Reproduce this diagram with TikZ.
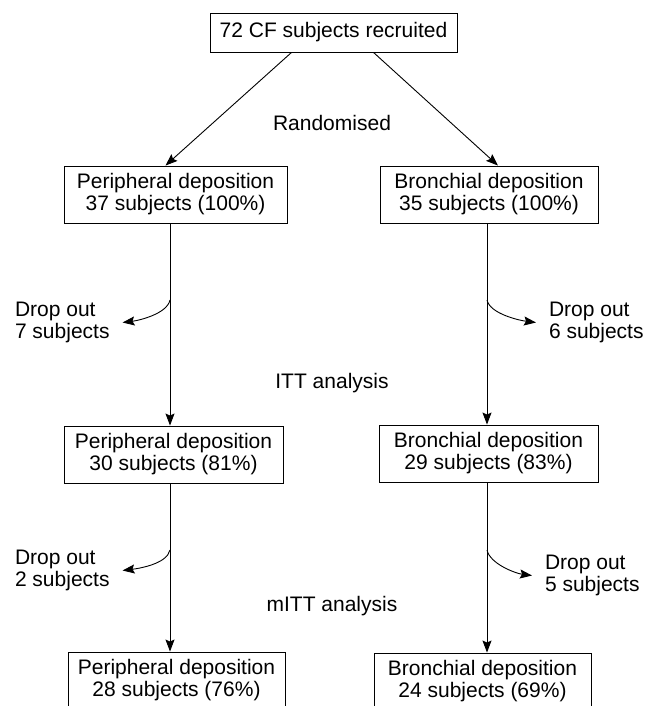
\documentclass[tikz,border=0pt]{standalone}
\usepackage{fontspec}
\setmainfont{Liberation Sans}
\usetikzlibrary{arrows.meta}

\tikzset{
	box/.style={draw, align=center, inner sep=0pt, minimum width=219pt, minimum height=57pt, font=\fontsize{21}{22}\selectfont},
	stage/.style={inner sep=0pt, font=\fontsize{21}{22}\selectfont},
	dropnote/.style={align=left, inner sep=0pt, outer xsep=13pt, font=\fontsize{21}{22}\selectfont},
	arr/.style={-{Stealth[length=12pt, width=9pt, inset=2pt]}}
}

\begin{document}
\begin{tikzpicture}[x=1pt, y=-1pt, line width=0.9pt]
	\useasboundingbox (0,0) rectangle (645,706);

	\node [box, minimum width=247pt, minimum height=39pt] (recruited) at (333.5, 32.5) {72 CF subjects recruited};

	\node [box, minimum width=223pt] (peri1) at (175.5, 194.5) {Peripheral deposition\\37 subjects (100\%)};
	\node [box, minimum width=218pt] (bron1) at (489, 194.5) {Bronchial deposition\\35 subjects (100\%)};

	\node [box] (peri2) at (173.5, 454.5) {Peripheral deposition\\30 subjects (81\%)};
	\node [box] (bron2) at (488.5, 453.5) {Bronchial deposition\\29 subjects (83\%)};

	\node [box, minimum width=217pt] (peri3) at (176.5, 680.5) {Peripheral deposition\\28 subjects (76\%)};
	\node [box, minimum width=217pt] (bron3) at (482.5, 681.5) {Bronchial deposition\\24 subjects (69\%)};

	\node [stage] (randomised) at (332, 123) {Randomised};
	\node [stage] (itt) at (332, 383) {ITT analysis};
	\node [stage] (mitt) at (332, 606) {mITT analysis};

	\node [dropnote, anchor=west] (dropL1) at (2, 322.5) {Drop out\\7 subjects};
	\node [dropnote, anchor=west] (dropR1) at (536, 322.5) {Drop out\\6 subjects};
	\node [dropnote, anchor=west] (dropL2) at (2, 570.5) {Drop out\\2 subjects};
	\node [dropnote, anchor=west] (dropR2) at (532, 575.5) {Drop out\\5 subjects};

	\coordinate (colL) at (170, 0);
	\coordinate (colR) at (487, 0);
	\coordinate (outL1) at (170, 300);
	\coordinate (outR1) at (487, 300);
	\coordinate (outL2) at (170, 550);
	\coordinate (outR2) at (487, 550);

	\draw [arr]
		([xshift=-42pt]recruited.south) -- ([xshift=-10pt]peri1.north);
	\draw [arr]
		([xshift=40pt]recruited.south) -- ([xshift=9pt]bron1.north);

	\draw [arr]
		(peri1.south -| colL) -- (peri2.north -| colL);
	\draw [arr]
		(peri2.south -| colL) -- (peri3.north -| colL);
	\draw [arr]
		(bron1.south -| colR) -- (bron2.north -| colR);
	\draw [arr]
		(bron2.south -| colR) -- (bron3.north -| colR);

	\draw [arr]
		(outL1) .. controls +(-3, 14) and +(16, -2) .. (dropL1.east);
	\draw [arr]
		(outR1) .. controls +(3, 14) and +(-16, -2) .. (dropR1.west);
	\draw [arr]
		(outL2) .. controls +(-3, 14) and +(16, -2) .. (dropL2.east);
	\draw [arr]
		(outR2) .. controls +(3, 14) and +(-16, -2) .. (dropR2.west);
\end{tikzpicture}
\end{document}
